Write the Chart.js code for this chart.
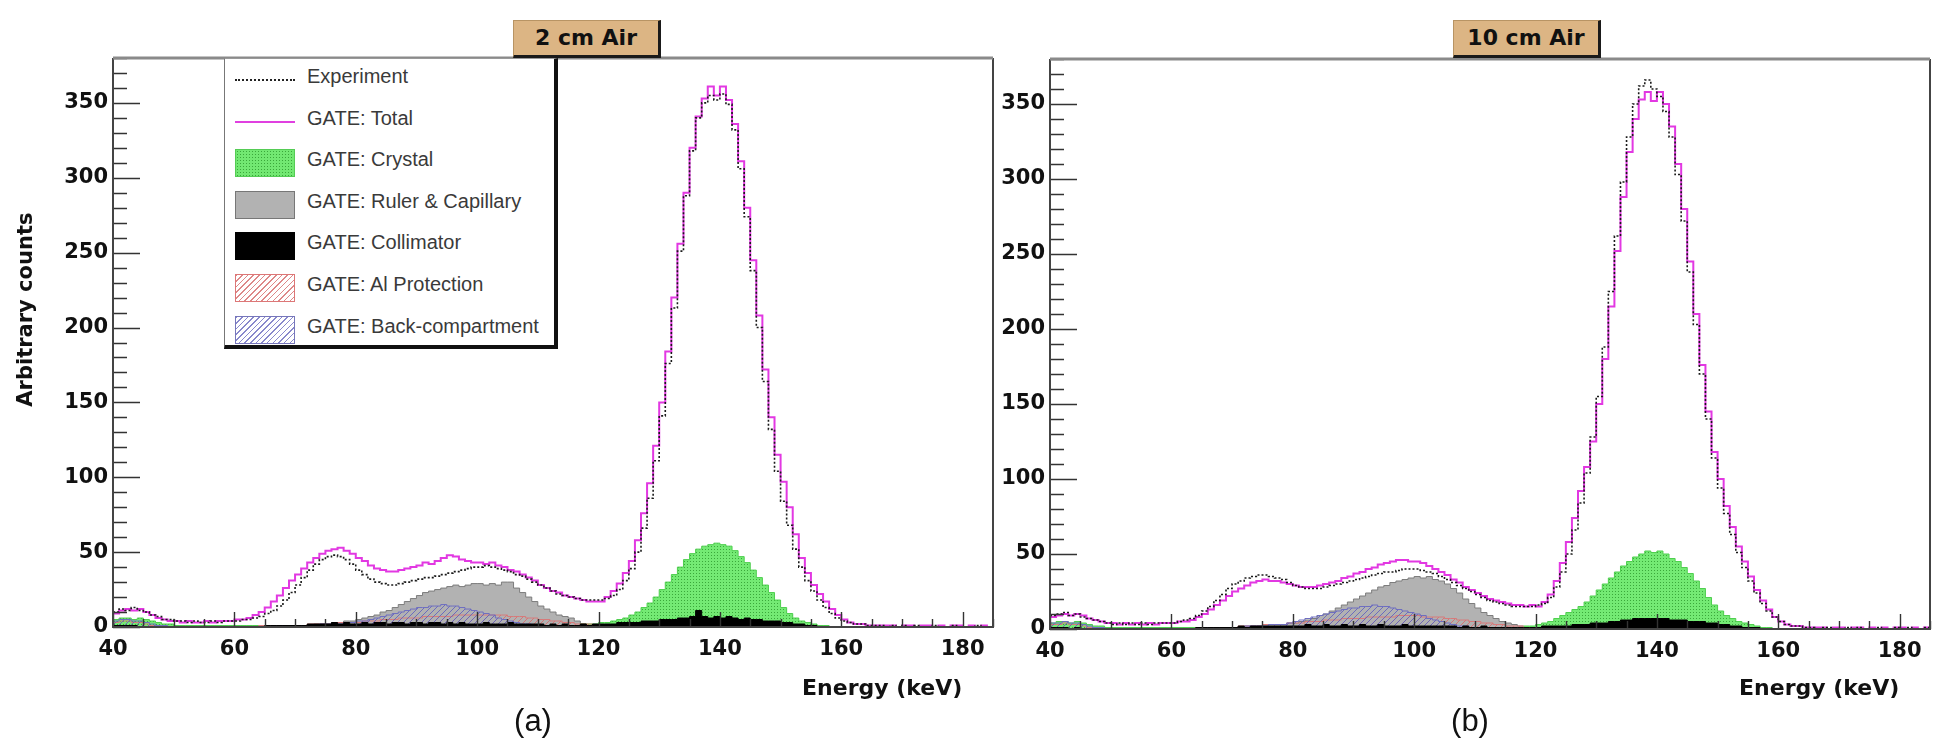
<!DOCTYPE html>
<html>
<head>
<meta charset="utf-8">
<script src="https://cdn.jsdelivr.net/npm/chart.js@4.4.1/dist/chart.umd.min.js"></script>
<style>
html,body{margin:0;padding:0;background:#fff;}
#wrap{position:relative;width:1938px;height:746px;overflow:hidden;background:#fff;}
canvas{position:absolute;top:0;}
.tbox{position:absolute;top:20px;width:144px;height:34px;background:#dcb584;border-top:1px solid #b89464;border-left:1px solid #b89464;border-right:3px solid #1a1a1a;border-bottom:3px solid #1a1a1a;font:bold 22px "DejaVu Sans";color:#111;text-align:center;line-height:34px;}
.lab{position:absolute;top:701px;font:31px "Liberation Sans";color:#111;transform:translateX(-50%);line-height:40px;}
#legend{position:absolute;left:224px;top:58px;width:329px;height:286px;background:#fff;border-left:1px solid #777;border-top:1px solid #999;border-right:4px solid #111;border-bottom:4px solid #111;}
.item{position:absolute;left:0;width:329px;height:30px;}
.sw{position:absolute;left:10px;top:1px;width:60px;height:28px;box-sizing:border-box;}
.txt{position:absolute;left:82px;top:0;line-height:30px;font:20px "Liberation Sans";color:#3a3a3a;white-space:nowrap;}
.sw.s0{height:2px;top:14px;border-top:2px dotted #222;}
.sw.s1{height:2px;top:14px;background:#e040e0;}
.sw.s2{background-color:#72e872;background-image:radial-gradient(#3aa83a 0.8px,transparent 1px);background-size:3px 3px;border:1px solid #5c5;}
.sw.s3{background:#b2b2b2;border:1px solid #777;}
.sw.s4{background:#000;}
.sw.s5{background:repeating-linear-gradient(135deg,#d88 0 1px,#fff 1px 4px);border:1px solid #d77;}
.sw.s6{background:repeating-linear-gradient(135deg,#88c 0 1px,#fff 1px 4px);border:1px solid #77b;}
</style>
</head>
<body>
<div id="wrap">
  <canvas id="cL" width="1000" height="746" style="left:0"></canvas>
  <canvas id="cR" width="938" height="746" style="left:1000px"></canvas>
  <div class="tbox" style="left:513px">2 cm Air</div>
  <div class="tbox" style="left:1453px">10 cm Air</div>
  <div class="lab" style="left:533px">(a)</div>
  <div class="lab" style="left:1470px">(b)</div>
  <div id="legend"></div>
</div>
<script>
// ---------------- data ----------------
const ENERGY_START = 40;  // low edge of first bin (keV)
const BIN_WIDTH = 1;      // keV
const X_MIN = 40, X_MAX = 185, X_MAJOR = 20, X_MINOR = 5;
const Y_MIN = 0, Y_MAX = 380, Y_MAJOR = 50, Y_MINOR = 10;
const X_TITLE = 'Energy (keV)';
const Y_TITLE = 'Arbitrary counts';
const PANEL_TITLES = ['2 cm Air', '10 cm Air'];
const SERIES_NAMES = ['Experiment','GATE: Total','GATE: Crystal','GATE: Ruler & Capillary','GATE: Collimator','GATE: Al Protection','GATE: Back-compartment'];

// ---- (a) 2 cm Air : bins 40..184 keV ----
const L_EXP = [
10,12,11,13,11,10,8,7,5,5,
4,4,3,4,3,3,4,3,4,4,
4,5,5,6,7,9,11,14,18,23,
28,33,38,42,45,47,48,47,45,42,
38,35,32,30,29,28,28,29,30,31,
32,33,33,34,35,36,37,38,39,40,
40,41,40,39,38,37,35,34,32,30,
28,26,24,22,21,20,19,18,18,18,
18,19,21,25,31,39,50,66,86,111,
141,176,213,251,288,318,340,350,355,352,
356,349,332,306,274,238,200,164,132,104,
84,68,52,40,31,24,18,13,9,6,
4,3,2,2,1,1,1,0,1,0,
1,0,1,0,0,1,0,0,1,0,
0,0,1,0,0];
const L_TOTAL = [
9,11,12,11,12,10,8,6,5,4,
4,3,4,3,3,4,3,4,4,4,
5,5,6,8,10,13,17,21,26,31,
35,39,43,46,49,51,52,53,51,49,
46,44,41,39,38,37,37,38,39,40,
41,43,42,44,46,48,47,45,44,43,
43,42,43,41,40,38,37,35,33,31,
28,26,24,23,21,20,19,18,17,17,
17,20,24,29,36,44,58,76,96,121,
150,184,220,256,290,320,341,353,361,355,
361,352,336,311,280,245,208,172,140,115,
97,80,62,46,36,28,22,17,12,8,
5,3,2,2,1,1,1,1,1,0,
1,1,0,1,1,0,1,0,1,1,
0,1,0,1,0];
const L_CRYSTAL = [
5,6,6,5,6,5,4,3,2,2,
1,1,1,1,1,1,1,1,1,1,
1,1,1,1,1,1,1,1,1,1,
1,1,1,1,1,1,1,1,1,1,
1,1,1,1,1,1,1,1,1,1,
1,1,1,1,1,1,1,1,1,1,
1,1,1,1,1,1,1,1,1,1,
1,1,1,1,1,1,1,2,2,2,
3,3,4,5,6,8,10,13,16,20,
25,30,35,40,45,49,52,54,55,56,
55,54,51,47,43,38,33,28,23,18,
13,9,6,4,3,2,1,1,0,0,
0,0,0,0,0,0,0,0,0,0,
0,0,0,0,0,0,0,0,0,0,
0,0,0,0,0];
const L_RULER = [
3,4,4,3,3,2,2,1,1,1,
1,0,1,0,1,1,0,1,1,1,
1,1,1,1,1,1,1,1,1,1,
1,1,1,2,2,2,3,3,4,4,
5,6,7,8,10,11,13,15,17,19,
21,23,24,25,26,27,28,27,28,29,
29,28,29,28,30,30,26,23,20,17,
14,12,10,8,7,6,4,2,1,1,
1,1,1,1,0,1,0,0,0,0,
0,0,0,0,0,0,0,0,0,0,
0,0,0,0,0,0,0,0,0,0,
0,0,0,0,0,0,0,0,0,0,
0,0,0,0,0,0,0,0,0,0,
0,0,0,0,0,0,0,0,0,0,
0,0,0,0,0];
const L_COLLIM = [
1,1,1,1,0,0,0,0,0,0,
0,0,0,0,0,0,0,0,0,0,
0,0,0,0,0,1,1,1,1,1,
1,1,2,2,2,2,3,2,3,2,
2,3,2,3,3,2,3,3,2,3,
3,2,3,3,2,3,2,3,2,2,
2,3,2,2,2,3,2,2,2,2,
2,1,2,1,2,1,1,2,1,2,
2,2,2,3,3,3,3,4,4,4,
5,5,5,6,6,7,11,7,6,7,
6,7,6,5,6,5,5,4,4,4,
3,3,2,2,1,1,0,0,0,0,
0,0,0,0,0,0,0,0,0,0,
0,0,0,0,0,0,0,0,0,0,
0,0,0,0,0];
const L_ALPROT = [
3,4,4,3,3,2,1,1,0,0,
0,0,0,0,0,0,0,0,0,0,
0,0,0,0,1,1,1,1,1,1,
1,1,2,2,2,2,2,3,3,3,
3,4,4,4,5,5,5,6,6,6,
6,7,7,7,7,7,8,8,8,8,
8,8,8,8,8,7,7,7,6,6,
5,5,4,4,3,3,2,2,2,1,
1,1,1,1,1,0,0,0,0,0,
0,0,0,0,0,0,0,0,0,0,
0,0,0,0,0,0,0,0,0,0,
0,0,0,0,0,0,0,0,0,0,
0,0,0,0,0,0,0,0,0,0,
0,0,0,0,0,0,0,0,0,0,
0,0,0,0,0];
const L_BACK = [
4,5,5,4,4,3,2,1,1,0,
0,0,0,0,0,0,0,0,0,0,
0,0,0,0,0,0,1,1,1,1,
1,1,1,1,2,2,2,2,3,3,
4,4,5,6,7,8,9,10,11,12,
13,13,14,14,15,14,14,13,12,11,
10,9,8,6,5,4,3,2,2,1,
1,1,0,0,0,0,0,0,0,0,
0,0,0,0,0,0,0,0,0,0,
0,0,0,0,0,0,0,0,0,0,
0,0,0,0,0,0,0,0,0,0,
0,0,0,0,0,0,0,0,0,0,
0,0,0,0,0,0,0,0,0,0,
0,0,0,0,0,0,0,0,0,0,
0,0,0,0,0];

// ---- (b) 10 cm Air : bins 40..184 keV ----
const R_EXP = [
9,10,11,9,10,8,7,6,5,4,
3,4,3,4,3,4,3,4,4,4,
4,5,6,7,9,12,15,19,23,27,
30,32,34,35,36,36,35,34,33,31,
29,28,27,27,27,28,29,30,31,32,
33,34,35,36,37,38,38,39,40,40,
40,39,38,37,35,33,31,29,27,25,
23,21,19,18,17,16,15,15,15,15,
16,17,21,28,38,50,66,84,104,128,
155,188,225,262,298,328,350,362,366,360,
355,345,328,303,272,238,203,170,140,114,
94,77,63,51,41,32,24,17,12,8,
5,3,2,2,1,1,0,1,1,0,
0,1,0,1,0,0,1,0,0,1,
0,1,0,0,1];
const R_TOTAL = [
8,9,10,9,10,9,7,6,5,4,
4,3,4,3,4,3,4,3,4,4,
4,5,5,6,8,10,13,16,19,22,
25,27,29,31,32,33,32,32,31,30,
29,28,28,28,29,30,31,32,34,35,
37,38,40,41,43,44,45,46,46,45,
45,44,42,40,38,36,33,31,28,26,
24,22,20,19,18,17,16,16,15,16,
15,18,23,32,44,58,74,92,108,125,
150,180,215,252,288,318,340,353,358,352,
358,350,335,310,280,245,210,176,145,118,
100,82,68,55,45,35,26,19,13,8,
5,3,2,2,1,1,1,1,0,1,
1,0,1,1,0,1,0,1,0,1,
1,0,1,0,1];
const R_CRYSTAL = [
4,5,5,4,5,4,3,2,2,1,
1,1,1,1,1,1,1,1,1,1,
1,1,1,1,1,1,1,1,1,1,
1,1,1,1,1,1,1,1,1,1,
1,1,1,1,1,1,1,1,1,1,
1,1,1,1,1,1,1,1,1,1,
1,1,1,1,1,1,1,1,1,1,
1,1,1,1,1,1,1,1,2,2,
3,4,5,7,9,11,13,15,18,22,
26,30,34,38,42,45,48,50,52,51,
52,50,47,45,41,37,32,27,21,16,
12,9,7,5,4,3,2,1,1,0,
0,0,0,0,0,0,0,0,0,0,
0,0,0,0,0,0,0,0,0,0,
0,0,0,0,0];
const R_RULER = [
3,3,4,3,3,2,2,1,1,1,
1,0,1,1,0,1,1,0,1,1,
1,1,1,1,1,1,1,1,1,1,
1,1,2,2,2,2,3,3,3,4,
4,5,6,7,9,10,12,14,16,18,
20,22,24,26,28,29,31,32,33,34,
35,34,35,33,32,30,27,24,20,17,
14,11,9,7,5,4,3,2,1,1,
1,1,1,0,1,0,0,0,0,0,
0,0,0,0,0,0,0,0,0,0,
0,0,0,0,0,0,0,0,0,0,
0,0,0,0,0,0,0,0,0,0,
0,0,0,0,0,0,0,0,0,0,
0,0,0,0,0,0,0,0,0,0,
0,0,0,0,0];
const R_COLLIM = [
1,1,1,0,1,0,0,0,0,0,
0,0,0,0,0,0,0,0,0,0,
0,0,0,0,1,1,1,1,1,1,
1,2,1,2,2,2,2,2,2,2,
2,2,3,2,2,3,2,2,3,2,
2,3,2,2,3,2,2,2,3,2,
2,2,2,2,2,2,2,1,2,1,
1,2,1,1,1,1,1,1,1,1,
1,2,2,2,2,2,3,3,3,4,
4,4,5,5,6,6,7,7,7,7,
7,7,6,6,6,5,5,5,4,4,
3,3,2,2,1,1,1,0,0,0,
0,0,0,0,0,0,0,0,0,0,
0,0,0,0,0,0,0,0,0,0,
0,0,0,0,0];
const R_ALPROT = [
3,3,4,3,3,2,1,1,0,0,
0,0,0,0,0,0,0,0,0,0,
0,0,0,0,1,1,1,1,1,1,
1,2,2,2,2,3,3,3,3,4,
4,4,5,5,5,6,6,6,7,7,
7,7,8,8,8,8,8,9,9,9,
9,8,8,8,8,7,7,6,6,5,
5,4,4,3,3,2,2,2,1,1,
1,1,1,0,0,0,0,0,0,0,
0,0,0,0,0,0,0,0,0,0,
0,0,0,0,0,0,0,0,0,0,
0,0,0,0,0,0,0,0,0,0,
0,0,0,0,0,0,0,0,0,0,
0,0,0,0,0,0,0,0,0,0,
0,0,0,0,0];
const R_BACK = [
4,4,5,4,4,3,2,1,1,0,
0,0,0,0,0,0,0,0,0,0,
0,0,0,0,0,1,1,1,1,1,
1,1,2,2,2,2,3,3,3,4,
5,6,7,8,9,10,11,12,13,14,
14,15,15,16,15,15,14,13,12,11,
10,9,7,6,5,4,3,2,2,1,
1,1,0,0,0,0,0,0,0,0,
0,0,0,0,0,0,0,0,0,0,
0,0,0,0,0,0,0,0,0,0,
0,0,0,0,0,0,0,0,0,0,
0,0,0,0,0,0,0,0,0,0,
0,0,0,0,0,0,0,0,0,0,
0,0,0,0,0,0,0,0,0,0,
0,0,0,0,0];

// ---------------- helpers ----------------
function hist(vals){
  const pts = vals.map((v,i)=>({x: ENERGY_START + i*BIN_WIDTH, y: v}));
  pts.push({x: ENERGY_START + vals.length*BIN_WIDTH, y: vals[vals.length-1]});
  return pts;
}
function tile(bg, fg, kind){
  const c = document.createElement('canvas');
  const n = kind === 'dots' ? 3 : 6;
  c.width = n; c.height = n;
  const g = c.getContext('2d');
  if (bg){ g.fillStyle = bg; g.fillRect(0,0,n,n); }
  if (kind === 'dots'){
    g.fillStyle = fg; g.fillRect(0,0,1,1);
  } else {
    g.strokeStyle = fg; g.lineWidth = 1;
    g.beginPath();
    g.moveTo(-1,1); g.lineTo(1,-1);
    g.moveTo(0,n); g.lineTo(n,0);
    g.moveTo(n-1,n+1); g.lineTo(n+1,n-1);
    g.stroke();
  }
  return document.createElement('canvas').getContext('2d').createPattern(c,'repeat');
}
const PAT_GREEN = tile('#74ea74', '#3aa83a', 'dots');
const PAT_RED = tile(null, 'rgba(215,110,110,0.9)', 'diag');
const PAT_BLUE = tile(null, 'rgba(100,100,190,0.9)', 'diag');

const FONT_AX = {family:'DejaVu Sans', weight:'bold', size:21};
const FONT_TI = {family:'DejaVu Sans', weight:'bold', size:22};

const rootFrame = {
  id: 'rootFrame',
  afterDatasetsDraw(chart){
    const {ctx, chartArea:a, scales:{x, y}} = chart;
    ctx.save();
    ctx.strokeStyle = '#333';
    ctx.lineWidth = 1.4;
    ctx.beginPath();
    for (let v = Y_MIN; v <= Y_MAX; v += Y_MINOR){
      const py = Math.round(y.getPixelForValue(v)) + 0.5;
      const len = (v % Y_MAJOR === 0) ? 27 : 14;
      ctx.moveTo(a.left, py); ctx.lineTo(a.left + len, py);
    }
    for (let v = X_MIN; v <= X_MAX; v += X_MINOR){
      const px = Math.round(x.getPixelForValue(v)) + 0.5;
      const len = ((v - X_MIN) % X_MAJOR === 0) ? 15 : 8;
      ctx.moveTo(px, a.bottom); ctx.lineTo(px, a.bottom - len);
    }
    ctx.stroke();
    ctx.lineWidth = 2;
    ctx.strokeStyle = '#444';
    ctx.beginPath();
    ctx.moveTo(a.left, a.top); ctx.lineTo(a.left, a.bottom); ctx.lineTo(a.right, a.bottom); ctx.lineTo(a.right, a.top);
    ctx.stroke();
    ctx.strokeStyle = '#8a8a8a';
    ctx.lineWidth = 3;
    ctx.beginPath();
    ctx.moveTo(a.left, a.top); ctx.lineTo(a.right, a.top);
    ctx.stroke();
    ctx.restore();
  }
};

function makeChart(id, d, opt){
  const ds = [
    {label: SERIES_NAMES[0], data: hist(d.exp), borderColor:'#1a1a1a', borderWidth:1.6, borderDash:[2,2], fill:false, order:1},
    {label: SERIES_NAMES[1], data: hist(d.total), borderColor:'#e238e2', borderWidth:2, fill:false, order:2},
    {label: SERIES_NAMES[2], data: hist(d.crystal), borderColor:'#4fcf4f', borderWidth:1, backgroundColor:PAT_GREEN, fill:'origin', order:6},
    {label: SERIES_NAMES[3], data: hist(d.ruler), borderColor:'#7d7d7d', borderWidth:1, backgroundColor:'#b2b2b2', fill:'origin', order:7},
    {label: SERIES_NAMES[4], data: hist(d.collim), borderColor:'#000', borderWidth:1, backgroundColor:'#000', fill:'origin', order:3},
    {label: SERIES_NAMES[5], data: hist(d.alprot), borderColor:'#d77a7a', borderWidth:1, backgroundColor:PAT_RED, fill:'origin', order:5},
    {label: SERIES_NAMES[6], data: hist(d.back), borderColor:'#6e6ec0', borderWidth:1, backgroundColor:PAT_BLUE, fill:'origin', order:4}
  ];
  ds.forEach(s => { s.stepped = true; s.pointRadius = 0; s.tension = 0; });
  return new Chart(document.getElementById(id), {
    type: 'line',
    data: {datasets: ds},
    options: {
      responsive:false, animation:false, devicePixelRatio:1, events:[],
      layout:{padding:{left:0, top:opt.top, right:opt.right, bottom:0}},
      plugins:{legend:{display:false}, tooltip:{enabled:false}, title:{display:false}},
      scales:{
        x:{type:'linear', min:X_MIN, max:X_MAX,
           grid:{display:false, drawTicks:false}, border:{display:false},
           ticks:{stepSize:X_MAJOR, includeBounds:false, autoSkip:false, maxRotation:0, padding:10, color:'#111', font:FONT_AX},
           title:{display:true, text:X_TITLE + '    ', align:'end', color:'#111', font:FONT_TI, padding:{top:0, bottom:44}},
           afterFit(s){ s.height = opt.xh; }},
        y:{type:'linear', min:Y_MIN, max:Y_MAX,
           grid:{display:false, drawTicks:false}, border:{display:false},
           ticks:{stepSize:Y_MAJOR, includeBounds:false, padding:5, color:'#111', font:FONT_AX},
           title:{display:opt.ytitle, text:'         ' + Y_TITLE, align:'center', color:'#111', font:FONT_AX, padding:{top:14}},
           afterFit(s){ s.width = opt.yw; }}
      }
    },
    plugins:[rootFrame]
  });
}

makeChart('cL', {exp:L_EXP, total:L_TOTAL, crystal:L_CRYSTAL, ruler:L_RULER, collim:L_COLLIM, alprot:L_ALPROT, back:L_BACK},
  {top:58, right:7, xh:119, yw:113, ytitle:true});
makeChart('cR', {exp:R_EXP, total:R_TOTAL, crystal:R_CRYSTAL, ruler:R_RULER, collim:R_COLLIM, alprot:R_ALPROT, back:R_BACK},
  {top:59, right:8, xh:117, yw:50, ytitle:false});

// legend
const leg = document.getElementById('legend');
SERIES_NAMES.forEach((name, i) => {
  const it = document.createElement('div');
  it.className = 'item';
  it.style.top = (6 + i*41.6) + 'px';
  const sw = document.createElement('div'); sw.className = 'sw s' + i;
  const tx = document.createElement('div'); tx.className = 'txt'; tx.textContent = name;
  it.appendChild(sw); it.appendChild(tx); leg.appendChild(it);
});
</script>
</body>
</html>
